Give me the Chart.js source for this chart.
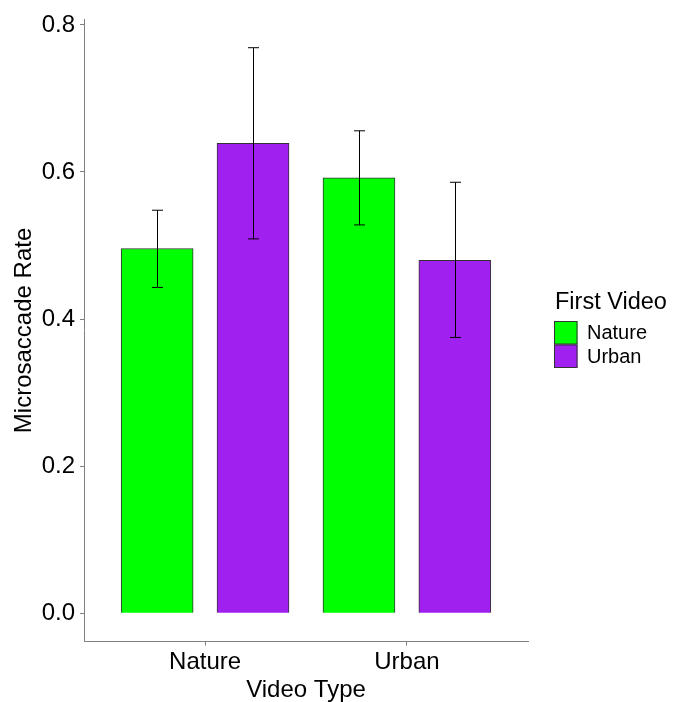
<!DOCTYPE html>
<html>
<head>
<meta charset="utf-8">
<script src="https://cdn.jsdelivr.net/npm/chart.js@4"></script>
<style>
  html, body { margin: 0; padding: 0; background: #ffffff; }
  #wrap { width: 674px; height: 702px; position: relative; }
</style>
</head>
<body>
<div id="wrap"><canvas id="c" width="674" height="702"></canvas></div>
<script>
// ---- data ----
const categories = ['Nature', 'Urban'];          // Video Type
const seriesNames = ['Nature', 'Urban'];         // First Video
const natureMeans = [0.496, 0.592];
const natureLower = [0.443, 0.528];
const natureUpper = [0.548, 0.656];
const urbanMeans = [0.639, 0.480];
const urbanLower = [0.509, 0.375];
const urbanUpper = [0.769, 0.586];
const yTicks = [0.0, 0.2, 0.4, 0.6, 0.8];

const seriesColors = ['#00FF00', '#A020F0'];
const dodge = 0.2375;
const FONT = "'Liberation Sans', Arial, sans-serif";

function pts(means, side) {
  return means.map((v, i) => ({ x: i + 1 + side * dodge, y: v }));
}

const errLow = [natureLower, urbanLower];
const errHigh = [natureUpper, urbanUpper];

const errorBars = {
  id: 'errorBars',
  afterDatasetsDraw(chart) {
    const ctx = chart.ctx;
    const y = chart.scales.y;
    ctx.save();
    ctx.strokeStyle = '#000000';
    ctx.lineWidth = 1;
    chart.data.datasets.forEach((ds, di) => {
      const meta = chart.getDatasetMeta(di);
      meta.data.forEach((bar, j) => {
        const x = Math.round(bar.x) + 0.5;
        const y1 = y.getPixelForValue(errLow[di][j]);
        const y2 = y.getPixelForValue(errHigh[di][j]);
        ctx.beginPath();
        ctx.moveTo(x, y1); ctx.lineTo(x, y2);
        ctx.moveTo(x - 5.5, y1); ctx.lineTo(x + 5.5, y1);
        ctx.moveTo(x - 5.5, y2); ctx.lineTo(x + 5.5, y2);
        ctx.stroke();
      });
    });
    ctx.restore();
  }
};

const customLegend = {
  id: 'customLegend',
  afterDraw(chart) {
    const ctx = chart.ctx;
    ctx.save();
    ctx.fillStyle = '#000000';
    ctx.textAlign = 'left';
    ctx.textBaseline = 'middle';
    ctx.font = '23.5px ' + FONT;
    ctx.fillText('First Video', 555, 303);
    const keyX = 554, keyY = 321, keyS = 23.5;
    seriesNames.forEach((name, i) => {
      const ky = keyY + i * keyS;
      ctx.fillStyle = seriesColors[i];
      ctx.fillRect(keyX, ky, keyS, keyS);
      ctx.strokeStyle = '#333333';
      ctx.lineWidth = 1;
      ctx.strokeRect(keyX + 0.5, ky + 0.5, keyS - 1, keyS - 1);
      ctx.fillStyle = '#000000';
      ctx.font = '20px ' + FONT;
      ctx.fillText(name, 587, ky + keyS / 2 + 1);
    });
    ctx.restore();
  }
};

new Chart(document.getElementById('c'), {
  type: 'bar',
  data: {
    datasets: [
      { label: seriesNames[0], data: pts(natureMeans, -1), backgroundColor: seriesColors[0],
        borderColor: '#333333', borderWidth: 1, barThickness: 72, grouped: false },
      { label: seriesNames[1], data: pts(urbanMeans, 1), backgroundColor: seriesColors[1],
        borderColor: '#333333', borderWidth: 1, barThickness: 72, grouped: false }
    ]
  },
  options: {
    responsive: false,
    animation: false,
    layout: { padding: { top: 15.5, right: 146, left: 0, bottom: 0 } },
    plugins: { legend: { display: false }, tooltip: { enabled: false } },
    scales: {
      x: {
        type: 'linear',
        min: 0.4, max: 2.6,
        offset: false,
        afterBuildTicks(scale) { scale.ticks = categories.map((c, i) => ({ value: i + 1 })); },
        afterFit(scale) { scale.height = 60.5; },
        ticks: {
          callback: (v) => categories[Math.round(v) - 1],
          font: { family: FONT, size: 24 },
          color: '#000000',
          padding: 2,
          maxRotation: 0,
          autoSkip: false
        },
        grid: { display: true, offset: false, drawOnChartArea: false, drawTicks: true, tickLength: 4, color: '#808080', lineWidth: 1 },
        border: { display: true, color: '#808080', width: 1 },
        title: { display: true, text: 'Video Type', color: '#000000',
                 font: { family: FONT, size: 24, lineHeight: 1 }, padding: { top: 0, bottom: 0 } }
      },
      y: {
        type: 'linear',
        min: -0.0385, max: 0.8075,
        afterBuildTicks(scale) { scale.ticks = yTicks.map(v => ({ value: v })); },
        afterFit(scale) { scale.width = 84; },
        ticks: {
          callback: (v) => v.toFixed(1),
          font: { family: FONT, size: 24 },
          color: '#000000',
          padding: 5
        },
        grid: { display: true, drawOnChartArea: false, drawTicks: true, tickLength: 4, color: '#808080', lineWidth: 1 },
        border: { display: true, color: '#808080', width: 1 },
        title: { display: true, text: 'Microsaccade Rate', color: '#000000',
                 font: { family: FONT, size: 24, lineHeight: 1 }, padding: { top: 12, bottom: 0 } }
      }
    }
  },
  plugins: [errorBars, customLegend]
});
</script>
</body>
</html>
